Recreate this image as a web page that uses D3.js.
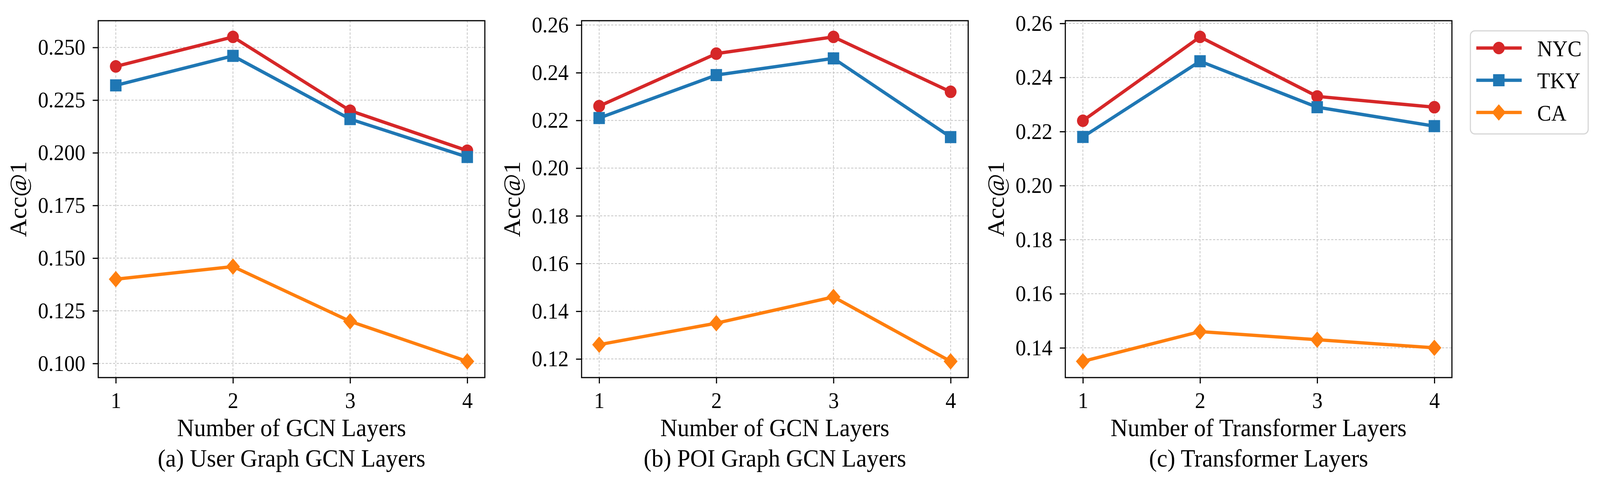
<!DOCTYPE html>
<html>
<head>
<meta charset="utf-8">
<script src="https://cdn.jsdelivr.net/npm/d3@7"></script>
<style>
  html, body { margin: 0; padding: 0; background: #fff; overflow: hidden; }
  #chart { display: block; width: 100vw; height: 100vh; }
  text { font-family: "Liberation Serif", "Times New Roman", serif; fill: #000; }
</style>
</head>
<body>
<svg id="chart" viewBox="0 0 4333 1237" preserveAspectRatio="none"></svg>
<script>
let layers = [1, 2, 3, 4];
let seriesNames = ["NYC", "TKY", "CA"];

// panel (a) user graph gcn layers
let userNYC = [0.241, 0.255, 0.220, 0.201];
let userTKY = [0.232, 0.246, 0.216, 0.198];
let userCA = [0.140, 0.146, 0.120, 0.101];

// panel (b) poi graph gcn layers
let poiNYC = [0.226, 0.248, 0.255, 0.232];
let poiTKY = [0.221, 0.239, 0.246, 0.213];
let poiCA = [0.126, 0.135, 0.146, 0.119];

// panel (c) transformer layers
let transNYC = [0.224, 0.255, 0.233, 0.229];
let transTKY = [0.218, 0.246, 0.229, 0.222];
let transCA = [0.135, 0.146, 0.143, 0.140];

let ticksA = [0.100, 0.125, 0.150, 0.175, 0.200, 0.225, 0.250];
let ticksB = [0.12, 0.14, 0.16, 0.18, 0.20, 0.22, 0.24, 0.26];
let ticksC = [0.14, 0.16, 0.18, 0.20, 0.22, 0.24, 0.26];

let xLabels = ["Number of GCN Layers", "Number of GCN Layers", "Number of Transformer Layers"];
let subTitles = ["(a) User Graph GCN Layers", "(b) POI Graph GCN Layers", "(c) Transformer Layers"];

let colors = { NYC: "#d62728", TKY: "#1f77b4", CA: "#ff7f0e" };
let symbols = { NYC: "circle", TKY: "square", CA: "diamond" };

let panels = [
  { series: [userNYC, userTKY, userCA], ticks: ticksA, fmt: ".3f" },
  { series: [poiNYC, poiTKY, poiCA], ticks: ticksB, fmt: ".2f" },
  { series: [transNYC, transTKY, transCA], ticks: ticksC, fmt: ".2f" }
];

let svg = d3.select("#chart");
let panelLeft = [266, 1575, 2885];
let plotW = 1047;
let plotTop = 53, plotBottom = 967;
let tickFont = 57, labelFont = 64;
let lineW = 8.5;

function marker(g, kind, cx, cy, color) {
  if (kind === "circle") {
    g.append("circle").attr("cx", cx).attr("cy", cy).attr("r", 16).attr("fill", color);
  } else if (kind === "square") {
    g.append("rect").attr("x", cx - 15.5).attr("y", cy - 15.5)
      .attr("width", 31).attr("height", 31).attr("fill", color);
  } else {
    let h = 21;
    g.append("path")
      .attr("d", `M${cx},${cy - h}L${cx + h * 0.9},${cy}L${cx},${cy + h}L${cx - h * 0.9},${cy}Z`)
      .attr("fill", color);
  }
}

panels.forEach(function(p, i) {
  let left = panelLeft[i];
  let g = svg.append("g");

  let x = d3.scaleLinear().domain([0.85, 4.15]).range([left, left + plotW]);
  let all = p.series.flat();
  let ext = d3.extent(all);
  let m = (ext[1] - ext[0]) * 0.05;
  let y = d3.scaleLinear().domain([ext[0] - m, ext[1] + m]).range([plotBottom, plotTop]);

  // grid
  let grid = g.append("g").attr("stroke", "#c4c4c4").attr("stroke-width", 2)
    .attr("stroke-dasharray", "6,4");
  layers.forEach(function(l) {
    grid.append("line").attr("x1", x(l)).attr("x2", x(l)).attr("y1", plotTop).attr("y2", plotBottom);
  });
  p.ticks.forEach(function(t) {
    grid.append("line").attr("x1", left).attr("x2", left + plotW).attr("y1", y(t)).attr("y2", y(t));
  });

  // axes
  let yAxis = g.append("g").attr("transform", `translate(${left},0)`)
    .call(d3.axisLeft(y).tickValues(p.ticks).tickFormat(d3.format(p.fmt)).tickSize(15).tickPadding(20));
  let xAxis = g.append("g").attr("transform", `translate(0,${plotBottom})`)
    .call(d3.axisBottom(x).tickValues(layers).tickFormat(d3.format("d")).tickSize(15).tickPadding(20));
  [yAxis, xAxis].forEach(function(a) {
    a.select(".domain").remove();
    a.selectAll(".tick line").attr("stroke", "#000").attr("stroke-width", 3);
    a.selectAll(".tick text").attr("font-size", tickFont)
      .style("font-family", '"Liberation Serif", serif');
  });
  xAxis.selectAll(".tick text").attr("dy", "0.76em");

  // lines and markers
  p.series.forEach(function(vals, k) {
    let name = seriesNames[k];
    let line = d3.line().x((d, j) => x(layers[j])).y(d => y(d));
    g.append("path").datum(vals).attr("d", line).attr("fill", "none")
      .attr("stroke", colors[name]).attr("stroke-width", lineW).attr("stroke-linejoin", "round");
    vals.forEach(function(v, j) {
      marker(g, symbols[name], x(layers[j]), y(v), colors[name]);
    });
  });

  // frame
  g.append("rect").attr("x", left).attr("y", plotTop).attr("width", plotW).attr("height", plotBottom - plotTop)
    .attr("fill", "none").attr("stroke", "#000").attr("stroke-width", 3);

  // y label placed left of the widest tick label
  let minLeft = d3.min(yAxis.selectAll(".tick text").nodes(), n => n.getBBox().x) + left;
  g.append("text")
    .attr("transform", `translate(${minLeft - 32},${(plotTop + plotBottom) / 2}) rotate(-90)`)
    .attr("text-anchor", "middle").attr("font-size", labelFont).text("Acc@1");

  let cx = left + plotW / 2;
  g.append("text").attr("x", cx).attr("y", 1117).attr("text-anchor", "middle")
    .attr("font-size", labelFont).text(xLabels[i]);
  g.append("text").attr("x", cx).attr("y", 1195).attr("text-anchor", "middle")
    .attr("font-size", labelFont).text(subTitles[i]);
});

// legend
let lg = svg.append("g");
lg.append("rect").attr("x", 3982).attr("y", 79).attr("width", 319).attr("height", 264)
  .attr("rx", 12).attr("fill", "#fff").attr("stroke", "#d6d6d6").attr("stroke-width", 3);
let legendY = d3.scalePoint().domain(seriesNames).range([123, 288]);
seriesNames.forEach(function(name) {
  let yy = legendY(name);
  lg.append("line").attr("x1", 3998).attr("x2", 4121).attr("y1", yy).attr("y2", yy)
    .attr("stroke", colors[name]).attr("stroke-width", lineW);
  marker(lg, symbols[name], 4059, yy, colors[name]);
  lg.append("text").attr("x", 4163).attr("y", yy).attr("dy", "0.36em")
    .attr("font-size", 57).text(name);
});
</script>
</body>
</html>
